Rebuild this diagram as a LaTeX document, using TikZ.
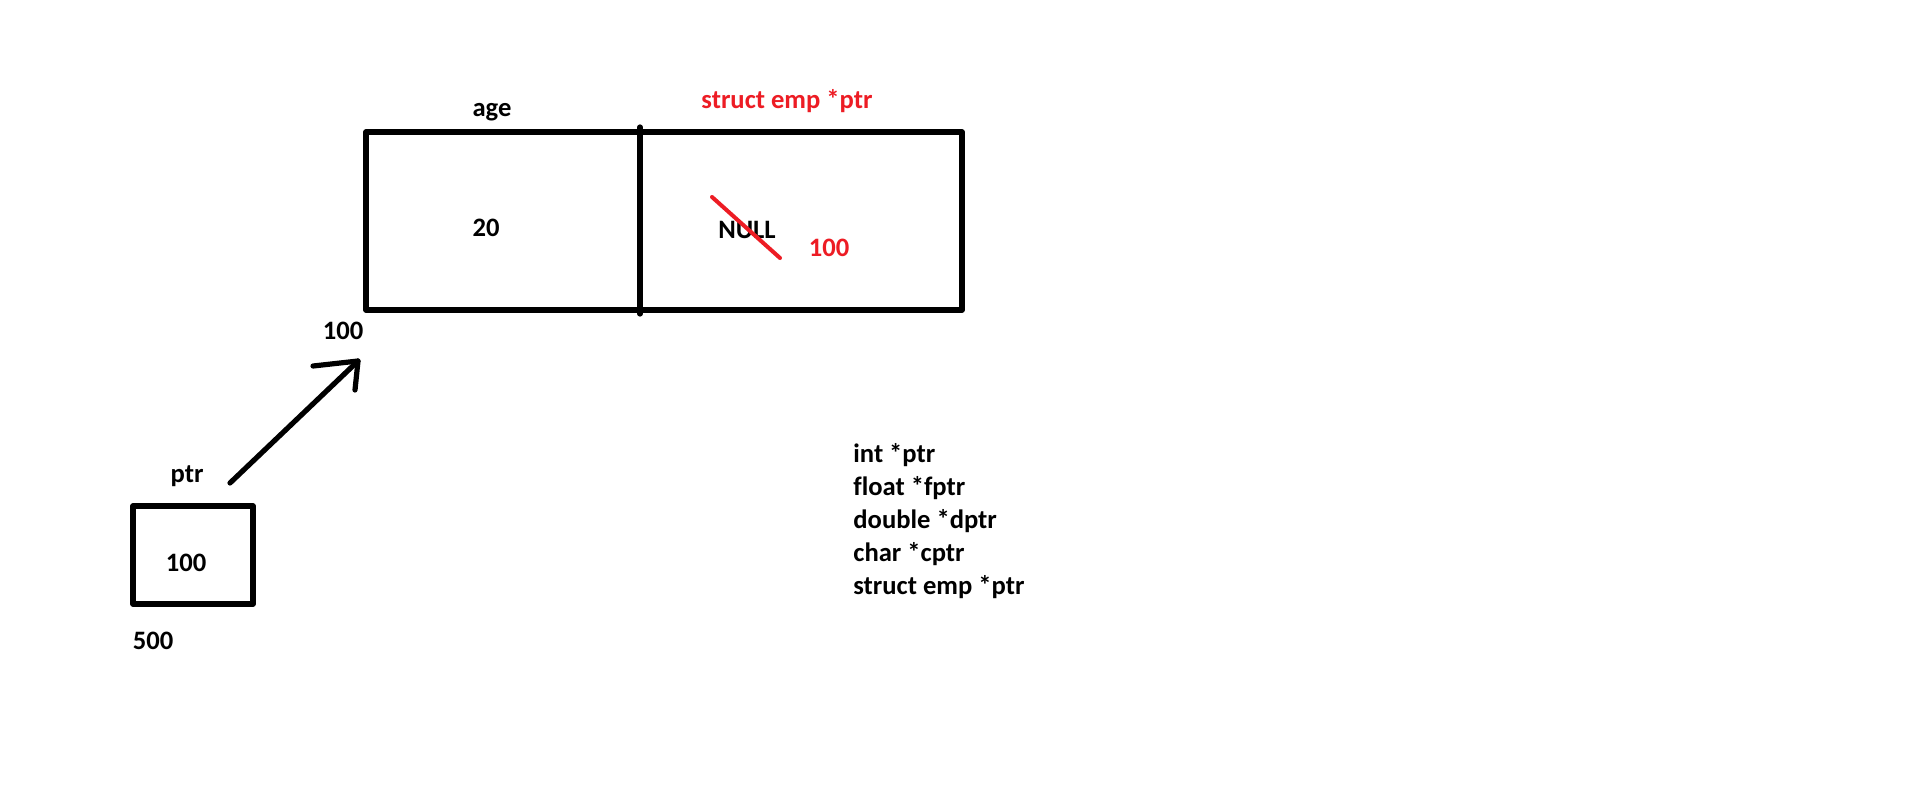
\documentclass[tikz,border=0pt]{standalone}
\usepackage{fontspec}
\setmainfont{Carlito}[Ligatures={NoCommon}]
\definecolor{pred}{RGB}{237,28,36}
\begin{document}
\begin{tikzpicture}[x=0.5pt,y=-0.5pt,line join=round,
  box/.style={draw=black,line width=2.6pt,inner sep=0pt,outer sep=0pt},
  pen/.style={draw=black,line width=2.6pt,line cap=round},
  lbl/.style={font=\fontsize{13.3}{16.5}\selectfont\bfseries,inner sep=0pt},
  rlbl/.style={lbl,text=pred},
  strike/.style={draw=pred,line width=2pt,line cap=round}]
\useasboundingbox[fill=white] (0,0) rectangle (1914,809);
% struct box
\node[box,minimum width=298pt,minimum height=89pt] (rec) at (664,221) {};
\coordinate (dtop) at (640,127);
\coordinate (dbot) at (640,314);
\draw[pen] (dtop) -- (dbot);
\node[lbl] (age) at (492,112) {age};
\node[rlbl] (stype) at (787,101) {struct emp *ptr};
\node[lbl] (twenty) at (486,228) {20};
\node[lbl] (null) at (747,230) {NULL};
\coordinate (s1) at (712,197);
\coordinate (s2) at (780,258);
\draw[strike] (s1) -- (s2);
\node[rlbl] (newval) at (829,248) {100};
\node[lbl] (addr) at (343,331) {100};
% pointer box
\node[box,minimum width=60pt,minimum height=49pt] (pbox) at (193,555) {};
\node[lbl] (ptrlbl) at (187,476) {ptr};
\node[lbl] (pval) at (186,563) {100};
\node[lbl] (paddr) at (153,641) {500};
% arrow
\coordinate (tail) at (230,483);
\coordinate (tip) at (358,361);
\coordinate (b1) at (313,366);
\coordinate (b2) at (355,390);
\draw[pen] (tail) -- (tip);
\draw[pen] (b1) -- (tip) -- (b2);
% list
\node[lbl,anchor=west,align=left] (list) at (853,521)
  {int *ptr\\float *fptr\\double *dptr\\char *cptr\\struct emp *ptr};
\end{tikzpicture}
\end{document}
